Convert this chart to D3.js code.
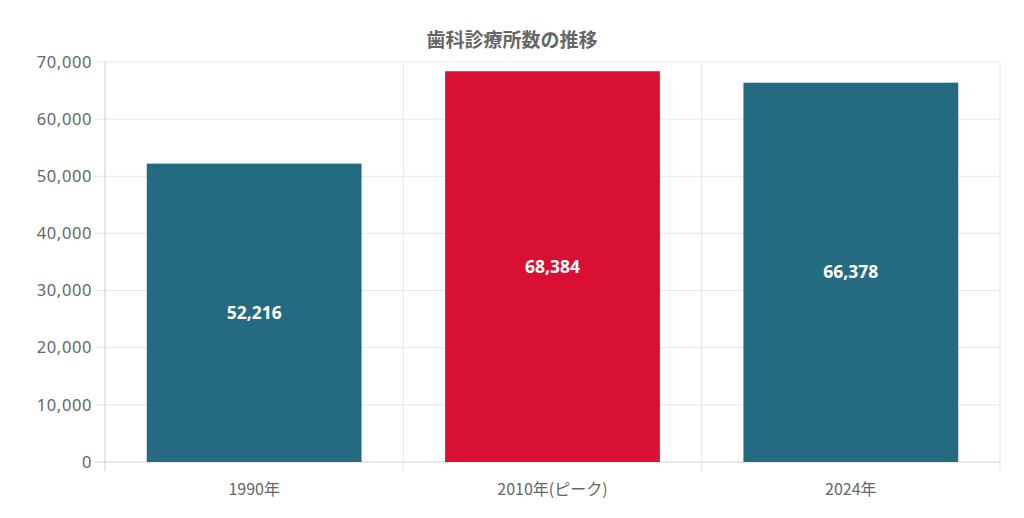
<!DOCTYPE html>
<html>
<head>
<meta charset="utf-8">
<script src="https://cdn.jsdelivr.net/npm/d3@7"></script>
<style>
  html, body { margin: 0; padding: 0; background: #fff; }
  body { font-family: "Noto Sans CJK JP", "Noto Sans", sans-serif; }
</style>
</head>
<body>
<div id="chart"></div>
<script>
const title = '歯科診療所数の推移';
const categories = ['1990年', '2010年(ピーク)', '2024年'];
const values = [52216, 68384, 66378];
const barColors = ['#246b82', '#d91034', '#246b82'];
const yTicks = [0, 10000, 20000, 30000, 40000, 50000, 60000, 70000];

const w = 1024;
const h = 518;
const margin = { top: 62, right: 24, bottom: 56, left: 105 };

const svg = d3.select('#chart')
    .append('svg')
    .attr('width', w)
    .attr('height', h);

// Scales
const xScale = d3.scaleBand()
    .domain(categories)
    .range([margin.left, w - margin.right])
    .paddingInner(0)
    .paddingOuter(0);

const yScale = d3.scaleLinear()
    .domain([0, 70000])
    .range([h - margin.bottom, margin.top]);

const fmt = d3.format(',');

// Horizontal grid
svg.append('g')
    .selectAll('line')
    .data(yTicks)
    .enter()
    .append('line')
    .attr('x1', margin.left - 10)
    .attr('x2', w - margin.right)
    .attr('y1', d => yScale(d))
    .attr('y2', d => yScale(d))
    .attr('stroke', d => d === 0 ? '#cfcfcf' : '#e6e6e6')
    .attr('stroke-width', 1);

// Vertical grid at category boundaries
const bounds = categories.map(c => xScale(c)).concat([xScale(categories[categories.length - 1]) + xScale.bandwidth()]);
svg.append('g')
    .selectAll('line')
    .data(bounds)
    .enter()
    .append('line')
    .attr('x1', d => d)
    .attr('x2', d => d)
    .attr('y1', margin.top)
    .attr('y2', h - margin.bottom + 9)
    .attr('stroke', (d, i) => i === 0 ? '#cfcfcf' : '#e6e6e6')
    .attr('stroke-width', 1);

// Y tick labels
svg.append('g')
    .selectAll('text')
    .data(yTicks)
    .enter()
    .append('text')
    .attr('x', margin.left - 13)
    .attr('y', d => yScale(d))
    .attr('dy', '0.35em')
    .attr('text-anchor', 'end')
    .attr('fill', '#666')
    .style('font-size', '16.5px')
    .style('letter-spacing', '0.6px')
    .style('font-family', '"Noto Sans", sans-serif')
    .text(d => fmt(d));

// X labels
svg.append('g')
    .selectAll('text')
    .data(categories)
    .enter()
    .append('text')
    .attr('x', d => xScale(d) + xScale.bandwidth() / 2)
    .attr('y', h - margin.bottom + 27)
    .attr('dy', '0.35em')
    .attr('text-anchor', 'middle')
    .attr('fill', '#666')
    .style('font-size', '16px')
    .text(d => d);

// Bars
const barW = xScale.bandwidth() * 0.72;
svg.append('g')
    .selectAll('rect')
    .data(values)
    .enter()
    .append('rect')
    .attr('x', (d, i) => xScale(categories[i]) + (xScale.bandwidth() - barW) / 2)
    .attr('y', d => yScale(d))
    .attr('width', barW)
    .attr('height', d => yScale(0) - yScale(d))
    .attr('fill', (d, i) => barColors[i]);

// Value labels
svg.append('g')
    .selectAll('text')
    .data(values)
    .enter()
    .append('text')
    .attr('x', (d, i) => xScale(categories[i]) + xScale.bandwidth() / 2)
    .attr('y', d => (yScale(d) + yScale(0)) / 2)
    .attr('dy', '0.35em')
    .attr('text-anchor', 'middle')
    .attr('fill', '#fff')
    .style('font-size', '17.5px')
    .style('font-weight', 'bold')
    .style('font-family', '"Noto Sans", sans-serif')
    .text(d => fmt(d));

// Title
svg.append('text')
    .attr('x', w / 2)
    .attr('y', 40)
    .attr('dy', '0.35em')
    .attr('text-anchor', 'middle')
    .attr('fill', '#666')
    .style('font-size', '19px')
    .style('font-weight', 'bold')
    .text(title);
</script>
</body>
</html>
